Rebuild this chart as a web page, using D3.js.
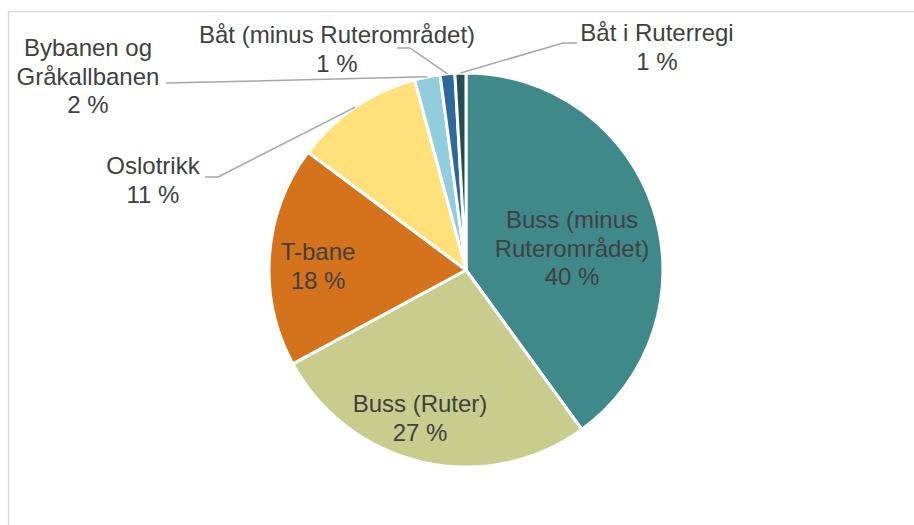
<!DOCTYPE html>
<html>
<head>
<meta charset="utf-8">
<script src="https://cdn.jsdelivr.net/npm/d3@7"></script>
<style>
    body { margin: 0; background: #fff; }
    svg { display: block; font-family: "Liberation Sans", Arial, sans-serif; }
</style>
</head>
<body>
<div id="chart"></div>
<script>
// andel per transportmiddel (prosent)
const categories = [
    "Buss (minus Ruterområdet)",
    "Buss (Ruter)",
    "T-bane",
    "Oslotrikk",
    "Bybanen og Gråkallbanen",
    "Båt (minus Ruterområdet)",
    "Båt i Ruterregi"
];
const values = [40.0, 27.1, 18.1, 10.6, 2.1, 1.2, 0.9];
const colors = ["#3f898b", "#c8cd8e", "#d4731c", "#ffe07a", "#92cddd", "#2e699b", "#244e50"];

// label lines and where they go
const labelLines = [
    ["Buss (minus", "Ruterområdet)"],
    ["Buss (Ruter)"],
    ["T-bane"],
    ["Oslotrikk"],
    ["Bybanen og", "Gråkallbanen"],
    ["Båt (minus Ruterområdet)"],
    ["Båt i Ruterregi"]
];
const labelPos = [
    { x: 572, y: 228 },
    { x: 420, y: 412 },
    { x: 318, y: 260 },
    { x: 153, y: 174 },
    { x: 88, y: 56 },
    { x: 337, y: 43 },
    { x: 657, y: 41 }
];
// leader line start + elbow (null = label sits inside)
const leaders = [
    null, null, null,
    [[205, 177], [218, 177]],
    [[166, 83]],
    [[397, 48], [410, 48]],
    [[577, 43], [563, 43]]
];

const width = 914, height = 525;
const cx = 466, cy = 270, radius = 197;

const svg = d3.select("#chart").append("svg")
    .attr("width", width)
    .attr("height", height);

// chart frame (partly cut off)
svg.append("rect")
    .attr("x", 8.5).attr("y", 11.5)
    .attr("width", 1000).attr("height", 1000)
    .attr("fill", "none")
    .attr("stroke", "#d9d9d9")
    .attr("stroke-width", 1.5);

const pie = d3.pie().sort(null).value(d => d);
const arcs = pie(values);
const arc = d3.arc().innerRadius(0).outerRadius(radius);

const g = svg.append("g").attr("transform", `translate(${cx},${cy})`);

g.selectAll("path")
    .data(arcs)
    .enter().append("path")
    .attr("d", arc)
    .attr("fill", (d, i) => colors[i])
    .attr("stroke", "#fff")
    .attr("stroke-width", 3)
    .attr("stroke-linejoin", "round");

// leader lines
const total = d3.sum(values);
arcs.forEach((a, i) => {
    if (!leaders[i]) return;
    const mid = (a.startAngle + a.endAngle) / 2;
    const end = [cx + Math.sin(mid) * radius, cy - Math.cos(mid) * radius];
    const pts = leaders[i].concat([end]);
    svg.append("path")
        .attr("d", d3.line()(pts))
        .attr("fill", "none")
        .attr("stroke", "#a6a6a6")
        .attr("stroke-width", 1.5);
});

// data labels
const labels = svg.append("g")
    .attr("font-size", 24)
    .attr("fill", "#404040")
    .attr("text-anchor", "middle");

arcs.forEach((a, i) => {
    const pct = Math.round(values[i] / total * 100) + " %";
    const lines = labelLines[i].concat([pct]);
    const t = labels.append("text")
        .attr("x", labelPos[i].x)
        .attr("y", labelPos[i].y);
    lines.forEach((l, j) => {
        t.append("tspan")
            .attr("x", labelPos[i].x)
            .attr("dy", j === 0 ? 0 : 28.5)
            .text(l);
    });
});
</script>
</body>
</html>
